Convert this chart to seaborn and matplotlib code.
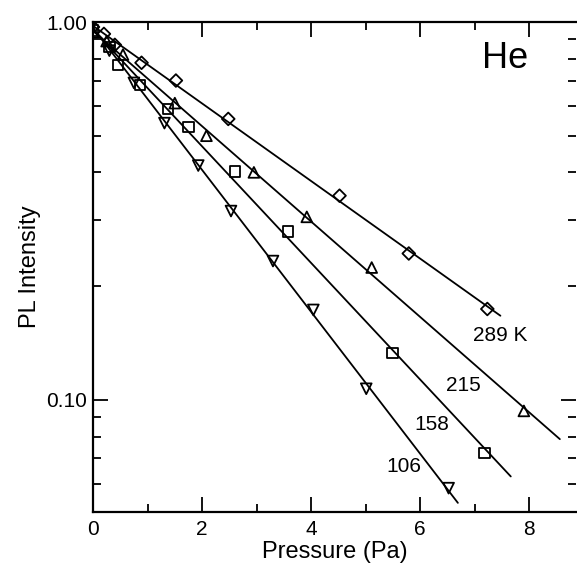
import numpy as np
import pandas as pd
import seaborn as sns
import matplotlib.pyplot as plt
from matplotlib.ticker import FixedLocator, FixedFormatter, NullFormatter

# PL intensity vs He pressure, four temperatures
temps = ['289 K', '215', '158', '106']
markers = ['D', '^', 's', 'v']

p_289 = [0, 0.2, 0.4, 0.89, 1.52, 2.48, 4.52, 5.79, 7.23]
i_289 = [0.97, 0.93, 0.87, 0.78, 0.70, 0.554, 0.347, 0.244, 0.174]

p_215 = [0, 0.25, 0.55, 1.50, 2.08, 2.95, 3.92, 5.11, 7.90]
i_215 = [0.94, 0.89, 0.82, 0.61, 0.50, 0.40, 0.305, 0.224, 0.0935]

p_158 = [0, 0.3, 0.46, 0.86, 1.37, 1.75, 2.60, 3.58, 5.49, 7.18]
i_158 = [0.95, 0.86, 0.77, 0.68, 0.588, 0.527, 0.402, 0.279, 0.133, 0.0723]

p_106 = [0, 0.3, 0.75, 1.31, 1.93, 2.53, 3.30, 4.04, 5.01, 6.52]
i_106 = [1.0, 0.84, 0.69, 0.54, 0.417, 0.316, 0.233, 0.173, 0.107, 0.0584]

fit_end = [7.47, 8.56, 7.66, 6.69]
label_x = [7.46, 6.79, 6.21, 5.70]
label_y = [0.148, 0.109, 0.0859, 0.0667]

pressures = [p_289, p_215, p_158, p_106]
intens = [i_289, i_215, i_158, i_106]
sizes = [42, 60, 55, 60]

sns.set_style("ticks")
plt.rcParams['font.family'] = ['Liberation Sans', 'DejaVu Sans']
for key in ['text.color', 'axes.labelcolor', 'xtick.color', 'ytick.color', 'axes.edgecolor']:
    plt.rcParams[key] = 'black'

fig = plt.figure(figsize=(5.77, 5.67), dpi=100)
ax = fig.add_axes([93/577, 1-512/567, (576-93)/577, (512-22)/567])

for k in range(4):
    df = pd.DataFrame({'p': pressures[k], 'I': intens[k]})
    sns.scatterplot(data=df, x='p', y='I', marker=markers[k], s=sizes[k],
                    facecolor='none', edgecolor='black', linewidth=1.3, ax=ax, zorder=3)
    # least squares line in log space
    b, a = np.polyfit(df['p'], np.log10(df['I']), 1)
    xs = np.linspace(0, fit_end[k], 50)
    sns.lineplot(x=xs, y=10**(a + b*xs), color='black', lw=1.3, ax=ax, zorder=2)
    ax.text(label_x[k], label_y[k], temps[k], fontsize=15, ha='center', va='center')

ax.text(7.55, 0.80, 'He', fontsize=26, ha='center', va='center')

ax.set_yscale('log')
ax.set_xlim(0, (576-93)/54.54)
ax.set_ylim(0.0505, 1.0)

ax.xaxis.set_major_locator(FixedLocator([0, 2, 4, 6, 8]))
ax.xaxis.set_minor_locator(FixedLocator([1, 3, 5, 7]))
ax.yaxis.set_major_locator(FixedLocator([0.1, 1.0]))
ax.yaxis.set_major_formatter(FixedFormatter(['0.10', '1.00']))
ax.yaxis.set_minor_locator(FixedLocator([0.06, 0.07, 0.08, 0.09, 0.2, 0.3, 0.4, 0.5, 0.6, 0.7, 0.8, 0.9]))
ax.yaxis.set_minor_formatter(NullFormatter())

ax.tick_params(which='both', direction='in', top=True, right=True, width=1.3, labelsize=15)
ax.tick_params(which='major', length=11)
ax.tick_params(which='minor', length=6)
ax.tick_params(axis='x', pad=6)
ax.tick_params(axis='y', pad=4)

for side in ['left', 'bottom', 'top']:
    ax.spines[side].set_linewidth(1.6)
ax.spines['right'].set_visible(False)

ax.set_xlabel('Pressure (Pa)', fontsize=17, labelpad=1)
ax.set_ylabel('PL Intensity', fontsize=17, labelpad=4)

fig.savefig('out.png', dpi=100)
